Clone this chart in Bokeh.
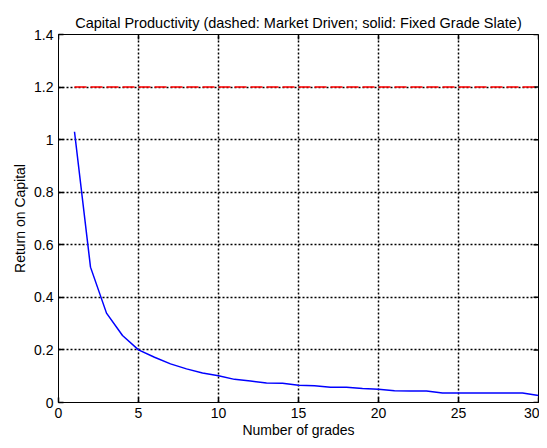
import math
from bokeh.plotting import figure
from bokeh.models import FixedTicker, Range1d, Title
from bokeh.embed import file_html
from bokeh.resources import INLINE

# ---- data ----
grades = [1, 2, 3, 4, 5, 6, 7, 8, 9, 10, 11, 12, 13, 14, 15,
          16, 17, 18, 19, 20, 21, 22, 23, 24, 25, 26, 27, 28, 29, 30]
market_driven = [1.2, 1.2, 1.2, 1.2, 1.2, 1.2, 1.2, 1.2, 1.2, 1.2,
                 1.2, 1.2, 1.2, 1.2, 1.2, 1.2, 1.2, 1.2, 1.2, 1.2,
                 1.2, 1.2, 1.2, 1.2, 1.2, 1.2, 1.2, 1.2, 1.2, 1.2]
fixed_grade_slate = [1.03, 0.515, 0.34, 0.255, 0.2, 0.172, 0.147, 0.128, 0.112, 0.102,
                     0.088, 0.082, 0.074, 0.073, 0.066, 0.064, 0.058, 0.058, 0.053, 0.050,
                     0.045, 0.044, 0.044, 0.036, 0.036, 0.036, 0.036, 0.036, 0.036, 0.027]
x_ticks = [0, 5, 10, 15, 20, 25, 30]
x_tick_labels = ["0", "5", "10", "15", "20", "25", "30"]
y_ticks = [0, 0.2, 0.4, 0.6, 0.8, 1, 1.2, 1.4]
y_tick_labels = ["0", "0.2", "0.4", "0.6", "0.8", "1", "1.2", "1.4"]

title_text = "Capital Productivity (dashed: Market Driven; solid: Fixed Grade Slate)"
FONT = "Liberation Sans"
TICK_FS = "14px"
LABEL_FS = "14px"
TITLE_FS = "14.5px"

x_lo, x_hi = x_ticks[0], x_ticks[-1]
y_lo, y_hi = y_ticks[0], y_ticks[-1]

p = figure(width=539, height=440, x_range=Range1d(x_lo, x_hi), y_range=Range1d(y_lo, y_hi),
           output_backend="svg", toolbar_location=None, title=None,
           min_border_left=58, min_border_right=1, min_border_top=34, min_border_bottom=38,
           background_fill_color="white", border_fill_color="white")

p.outline_line_color = "black"
p.outline_line_width = 1

def style_axis(ax, ticks, labels):
    ax.ticker = FixedTicker(ticks=ticks)
    ax.major_label_overrides = {t: l for t, l in zip(ticks, labels)}
    ax.major_tick_in = 5
    ax.major_tick_out = 0
    ax.major_tick_line_color = "black"
    ax.major_tick_line_width = 1.5
    ax.minor_tick_line_color = None
    ax.axis_line_color = "black"
    ax.major_label_text_font = FONT
    ax.major_label_text_color = "black"
    ax.major_label_text_font_size = TICK_FS
    ax.major_label_standoff = 5
    ax.axis_label_text_font = FONT
    ax.axis_label_text_font_size = LABEL_FS
    ax.axis_label_text_font_style = "normal"
    ax.axis_label_text_color = "black"

xa = p.xaxis[0]
ya = p.yaxis[0]
style_axis(xa, x_ticks, x_tick_labels)
style_axis(ya, y_ticks, y_tick_labels)
xa.axis_label = "Number of grades"
ya.axis_label = "Return on Capital"
xa.axis_label_standoff = 1
ya.axis_label_standoff = 3

p.add_layout(Title(text=title_text, align="center", text_font=FONT, text_font_size=TITLE_FS,
                   text_font_style="normal", text_color="black", standoff=8), "above")

for g in (p.xgrid[0], p.ygrid[0]):
    g.grid_line_color = "black"
    g.grid_line_width = 1.5
    g.grid_line_dash = "2 2"
p.xgrid[0].ticker = FixedTicker(ticks=x_ticks)
p.ygrid[0].ticker = FixedTicker(ticks=y_ticks)

# mirrored inward ticks on the top and right edges of the box (MATLAB "box on")
p.scatter(x_ticks, [y_hi] * len(x_ticks), marker="dash", size=10, angle=math.pi / 2,
          line_color="black", line_width=1.5)
p.scatter([x_hi] * len(y_ticks), y_ticks, marker="dash", size=10,
          line_color="black", line_width=1.5)

p.line(grades, market_driven, line_color="#ff0000", line_width=1.5, line_dash="12 4")
p.line(grades, fixed_grade_slate, line_color="#0000ff", line_width=1.5)

open("out.html", "w").write(file_html(p, INLINE))
